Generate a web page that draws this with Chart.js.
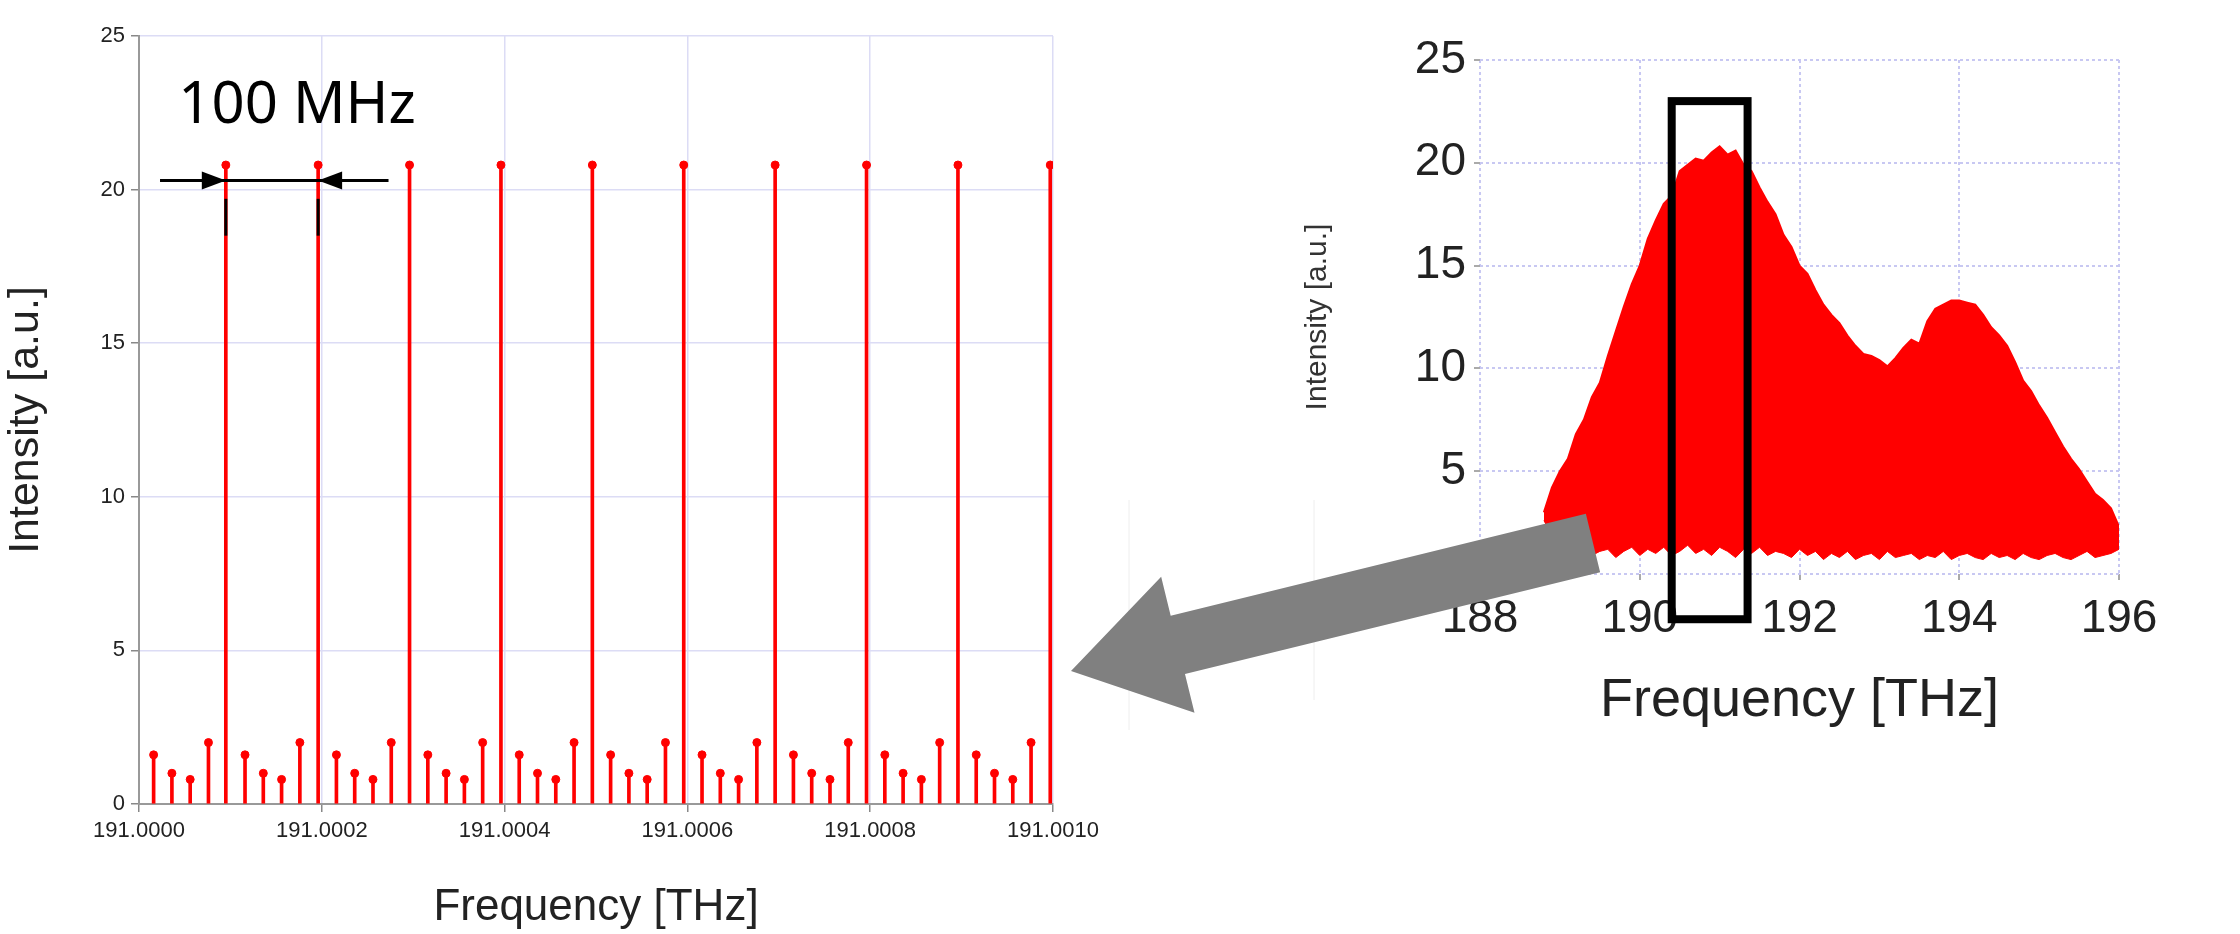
<!DOCTYPE html>
<html>
<head>
<meta charset="utf-8">
<script src="https://cdn.jsdelivr.net/npm/chart.js@4.4.1/dist/chart.umd.min.js"></script>
<style>
  body { margin: 0; background: #fff; width: 2240px; height: 934px; position: relative; overflow: hidden; }
  #comb { position: absolute; left: 0; top: 0; }
  #spec { position: absolute; left: 1300px; top: 0; }
  #overlay { position: absolute; left: 0; top: 0; pointer-events: none; }
</style>
</head>
<body>
<canvas id="comb" width="1120" height="934"></canvas>
<canvas id="spec" width="940" height="934"></canvas>
<canvas id="overlay" width="2240" height="934"></canvas>
<script>
// left: comb lines, x in units of 1e-4 THz above 191.0000
var combX = [0.16, 0.36, 0.56, 0.76, 0.95, 1.16, 1.36, 1.56, 1.76, 1.96,
             2.16, 2.36, 2.56, 2.76, 2.96, 3.16, 3.36, 3.56, 3.76, 3.96,
             4.16, 4.36, 4.56, 4.76, 4.96, 5.16, 5.36, 5.56, 5.76, 5.96,
             6.16, 6.36, 6.56, 6.76, 6.96, 7.16, 7.36, 7.56, 7.76, 7.96,
             8.16, 8.36, 8.56, 8.76, 8.96, 9.16, 9.36, 9.56, 9.76, 9.97];
var combY = [1.6, 1.0, 0.8, 2.0, 20.8, 1.6, 1.0, 0.8, 2.0, 20.8,
             1.6, 1.0, 0.8, 2.0, 20.8, 1.6, 1.0, 0.8, 2.0, 20.8,
             1.6, 1.0, 0.8, 2.0, 20.8, 1.6, 1.0, 0.8, 2.0, 20.8,
             1.6, 1.0, 0.8, 2.0, 20.8, 1.6, 1.0, 0.8, 2.0, 20.8,
             1.6, 1.0, 0.8, 2.0, 20.8, 1.6, 1.0, 0.8, 2.0, 20.8];
var combTicks = [0, 2, 4, 6, 8, 10];

// right: broadband spectrum envelope
var specX = [188.8, 188.9, 189.0, 189.1, 189.2, 189.3, 189.4, 189.5, 189.6, 189.7,
             189.8, 189.9, 190.0, 190.1, 190.2, 190.3, 190.4, 190.5, 190.6, 190.7,
             190.8, 190.9, 191.0, 191.1, 191.2, 191.3, 191.4, 191.5, 191.6, 191.7,
             191.8, 191.9, 192.0, 192.1, 192.2, 192.3, 192.4, 192.5, 192.6, 192.7,
             192.8, 192.9, 193.0, 193.1, 193.2, 193.3, 193.4, 193.5, 193.6, 193.7,
             193.8, 193.9, 194.0, 194.1, 194.2, 194.3, 194.4, 194.5, 194.6, 194.7,
             194.8, 194.9, 195.0, 195.1, 195.2, 195.3, 195.4, 195.5, 195.6, 195.7,
             195.8, 195.9, 196.0];
var specTop = [3.0, 4.2, 5.0, 5.6, 6.8, 7.5, 8.6, 9.3, 10.6, 11.8,
               13.0, 14.1, 15.0, 16.3, 17.2, 18.0, 18.4, 19.6, 19.9, 20.2,
               20.1, 20.5, 20.8, 20.4, 20.6, 19.9, 19.6, 18.8, 18.1, 17.5,
               16.5, 15.9, 15.0, 14.6, 13.8, 13.1, 12.6, 12.2, 11.6, 11.1,
               10.7, 10.6, 10.4, 10.1, 10.5, 11.0, 11.4, 11.2, 12.3, 12.9,
               13.1, 13.3, 13.3, 13.2, 13.1, 12.6, 12.0, 11.6, 11.1, 10.3,
               9.4, 8.9, 8.2, 7.6, 6.9, 6.2, 5.6, 5.1, 4.5, 3.9,
               3.6, 3.2, 2.3];
var specBottom = [2.6, 1.9, 1.4, 1.2, 1.0, 1.3, 0.9, 1.1, 1.2, 0.8,
                  1.1, 1.3, 0.9, 1.2, 1.0, 1.3, 0.9, 1.1, 1.4, 1.0,
                  1.2, 0.9, 1.3, 1.1, 0.8, 1.2, 1.0, 1.3, 0.9, 1.1,
                  1.0, 0.8, 1.2, 0.9, 1.1, 0.7, 1.0, 0.8, 1.1, 0.7,
                  0.9, 1.0, 0.7, 1.1, 0.8, 0.9, 1.0, 0.7, 0.9, 0.8,
                  1.1, 0.7, 0.9, 1.0, 0.8, 0.7, 1.0, 0.8, 0.9, 0.7,
                  1.0, 0.8, 0.7, 0.9, 1.0, 0.8, 0.7, 0.9, 1.1, 0.8,
                  0.9, 1.0, 1.2];
var specTicksX = [188, 190, 192, 194, 196];

var RED = '#ff0000';
Chart.defaults.font.family = '"Liberation Sans", Arial, sans-serif';
Chart.defaults.color = '#222';

function pts(xs, ys) {
    return xs.map(function (x, i) { return { x: x, y: ys[i] }; });
}

// annotation on the comb plot: "100 MHz" with arrows
var combNotes = {
    id: 'combNotes',
    afterDraw: function (chart) {
        var c = chart.ctx, xs = chart.scales.x, ys = chart.scales.y;
        var yA = ys.getPixelForValue(20.3);
        var x0 = xs.getPixelForValue(0.23), x1 = xs.getPixelForValue(0.95);
        var x2 = xs.getPixelForValue(1.96), x3 = xs.getPixelForValue(2.73);
        c.save();
        c.strokeStyle = '#000'; c.fillStyle = '#000'; c.lineWidth = 3;
        c.beginPath(); c.moveTo(x0, yA); c.lineTo(x3, yA); c.stroke();
        function head(tx, dir) {
            c.beginPath(); c.moveTo(tx, yA); c.lineTo(tx - dir * 24, yA - 9); c.lineTo(tx - dir * 24, yA + 9); c.closePath(); c.fill();
        }
        head(x1, 1); head(x2, -1);
        [x1, x2].forEach(function (x) {
            c.beginPath(); c.moveTo(x, ys.getPixelForValue(19.7)); c.lineTo(x, ys.getPixelForValue(18.5)); c.stroke();
        });
        c.font = '58px "Noto Sans", "Open Sans", sans-serif';
        c.textBaseline = 'middle';
        c.fillText('100 MHz', xs.getPixelForValue(0.43), ys.getPixelForValue(22.7));
        c.restore();
    }
};

new Chart(document.getElementById('comb'), {
    type: 'bar',
    data: {
        datasets: [{
            type: 'bar',
            data: pts(combX, combY),
            backgroundColor: RED,
            barThickness: 3,
            borderWidth: 0
        }, {
            type: 'scatter',
            data: pts(combX, combY),
            backgroundColor: RED,
            borderColor: RED,
            pointRadius: 4
        }]
    },
    options: {
        responsive: false,
        animation: false,
        devicePixelRatio: 1,
        layout: { padding: { left: 0, top: 36, right: 67, bottom: 0 } },
        plugins: { legend: { display: false }, tooltip: { enabled: false } },
        scales: {
            x: {
                type: 'linear', min: 0, max: 10, offset: false,
                afterBuildTicks: function (s) { s.ticks = combTicks.map(function (v) { return { value: v }; }); },
                afterFit: function (s) { s.height = 130; },
                ticks: {
                    callback: function (v) { return (191 + v * 0.0001).toFixed(4); },
                    font: { size: 22 }, color: '#222', maxRotation: 0, padding: 6
                },
                grid: { offset: false, color: '#dcdcf5', lineWidth: 1.5, tickColor: '#888', tickLength: 8 },
                border: { color: '#999', width: 2 },
                title: { display: true, text: 'Frequency [THz]', font: { size: 44 }, color: '#222', padding: { top: 0, bottom: 0 } }
            },
            y: {
                min: 0, max: 25,
                afterFit: function (s) { s.width = 139; },
                ticks: { stepSize: 5, font: { size: 22 }, color: '#222', padding: 6 },
                grid: { color: '#dcdcf5', lineWidth: 1.5, tickColor: '#888', tickLength: 8 },
                border: { color: '#999', width: 2 },
                title: { display: true, text: 'Intensity [a.u.]', font: { size: 43 }, color: '#222', padding: { top: 0, bottom: 0 } }
            }
        }
    },
    plugins: [combNotes]
});

// box marking the zoomed region
var specBox = {
    id: 'specBox',
    afterDraw: function (chart) {
        var c = chart.ctx, xs = chart.scales.x, ys = chart.scales.y;
        var l = xs.getPixelForValue(190.4), r = xs.getPixelForValue(191.35);
        var t = ys.getPixelForValue(23.0), b = ys.getPixelForValue(-2.2);
        c.save();
        c.strokeStyle = '#000'; c.lineWidth = 8;
        c.strokeRect(l, t, r - l, b - t);
        c.restore();
    }
};

new Chart(document.getElementById('spec'), {
    type: 'line',
    data: {
        datasets: [{
            data: pts(specX, specTop),
            borderColor: RED,
            backgroundColor: RED,
            borderWidth: 2,
            pointRadius: 0,
            fill: '+1'
        }, {
            data: pts(specX, specBottom),
            borderColor: RED,
            borderWidth: 1,
            pointRadius: 0,
            fill: false
        }]
    },
    options: {
        responsive: false,
        animation: false,
        devicePixelRatio: 1,
        layout: { padding: { left: 0, top: 60, right: 121, bottom: 200 } },
        plugins: { legend: { display: false }, tooltip: { enabled: false } },
        scales: {
            x: {
                type: 'linear', min: 188, max: 196,
                afterBuildTicks: function (s) { s.ticks = specTicksX.map(function (v) { return { value: v }; }); },
                afterFit: function (s) { s.height = 160; },
                ticks: { font: { size: 46 }, color: '#222', maxRotation: 0, padding: 12 },
                grid: { color: '#c8c8f2', lineWidth: 2, tickColor: '#aaa', tickLength: 6 },
                border: { display: false, dash: [3, 3] },
                title: { display: true, text: 'Frequency [THz]', font: { size: 54 }, color: '#222', padding: { top: 0, bottom: 0 } }
            },
            y: {
                min: 0, max: 25,
                afterFit: function (s) { s.width = 180; },
                ticks: { stepSize: 5, font: { size: 46 }, color: '#222', padding: 8 },
                grid: { color: '#c8c8f2', lineWidth: 2, tickColor: '#aaa', tickLength: 6 },
                border: { display: false, dash: [3, 3] },
                title: { display: true, text: 'Intensity [a.u.]', font: { size: 30 }, color: '#333', padding: { top: 0, bottom: 4 } }
            }
        }
    },
    plugins: [specBox]
});

// big grey arrow from the spectrum to the comb
(function () {
    var c = document.getElementById('overlay').getContext('2d');
    c.strokeStyle = '#eee'; c.lineWidth = 1;
    c.beginPath(); c.moveTo(1129, 500); c.lineTo(1129, 730); c.moveTo(1314, 500); c.lineTo(1314, 700); c.stroke();
    var tail = [1593, 543], tip = [1071, 671];
    var dx = tip[0] - tail[0], dy = tip[1] - tail[1], len = Math.sqrt(dx * dx + dy * dy);
    var ux = dx / len, uy = dy / len, nx = -uy, ny = ux;
    var shaft = 30, headW = 70, headL = 110;
    var bx = tip[0] - ux * headL, by = tip[1] - uy * headL;
    c.fillStyle = '#808080';
    c.beginPath();
    c.moveTo(tail[0] + nx * shaft, tail[1] + ny * shaft);
    c.lineTo(bx + nx * shaft, by + ny * shaft);
    c.lineTo(bx + nx * headW, by + ny * headW);
    c.lineTo(tip[0], tip[1]);
    c.lineTo(bx - nx * headW, by - ny * headW);
    c.lineTo(bx - nx * shaft, by - ny * shaft);
    c.lineTo(tail[0] - nx * shaft, tail[1] - ny * shaft);
    c.closePath();
    c.fill();
})();
</script>
</body>
</html>
